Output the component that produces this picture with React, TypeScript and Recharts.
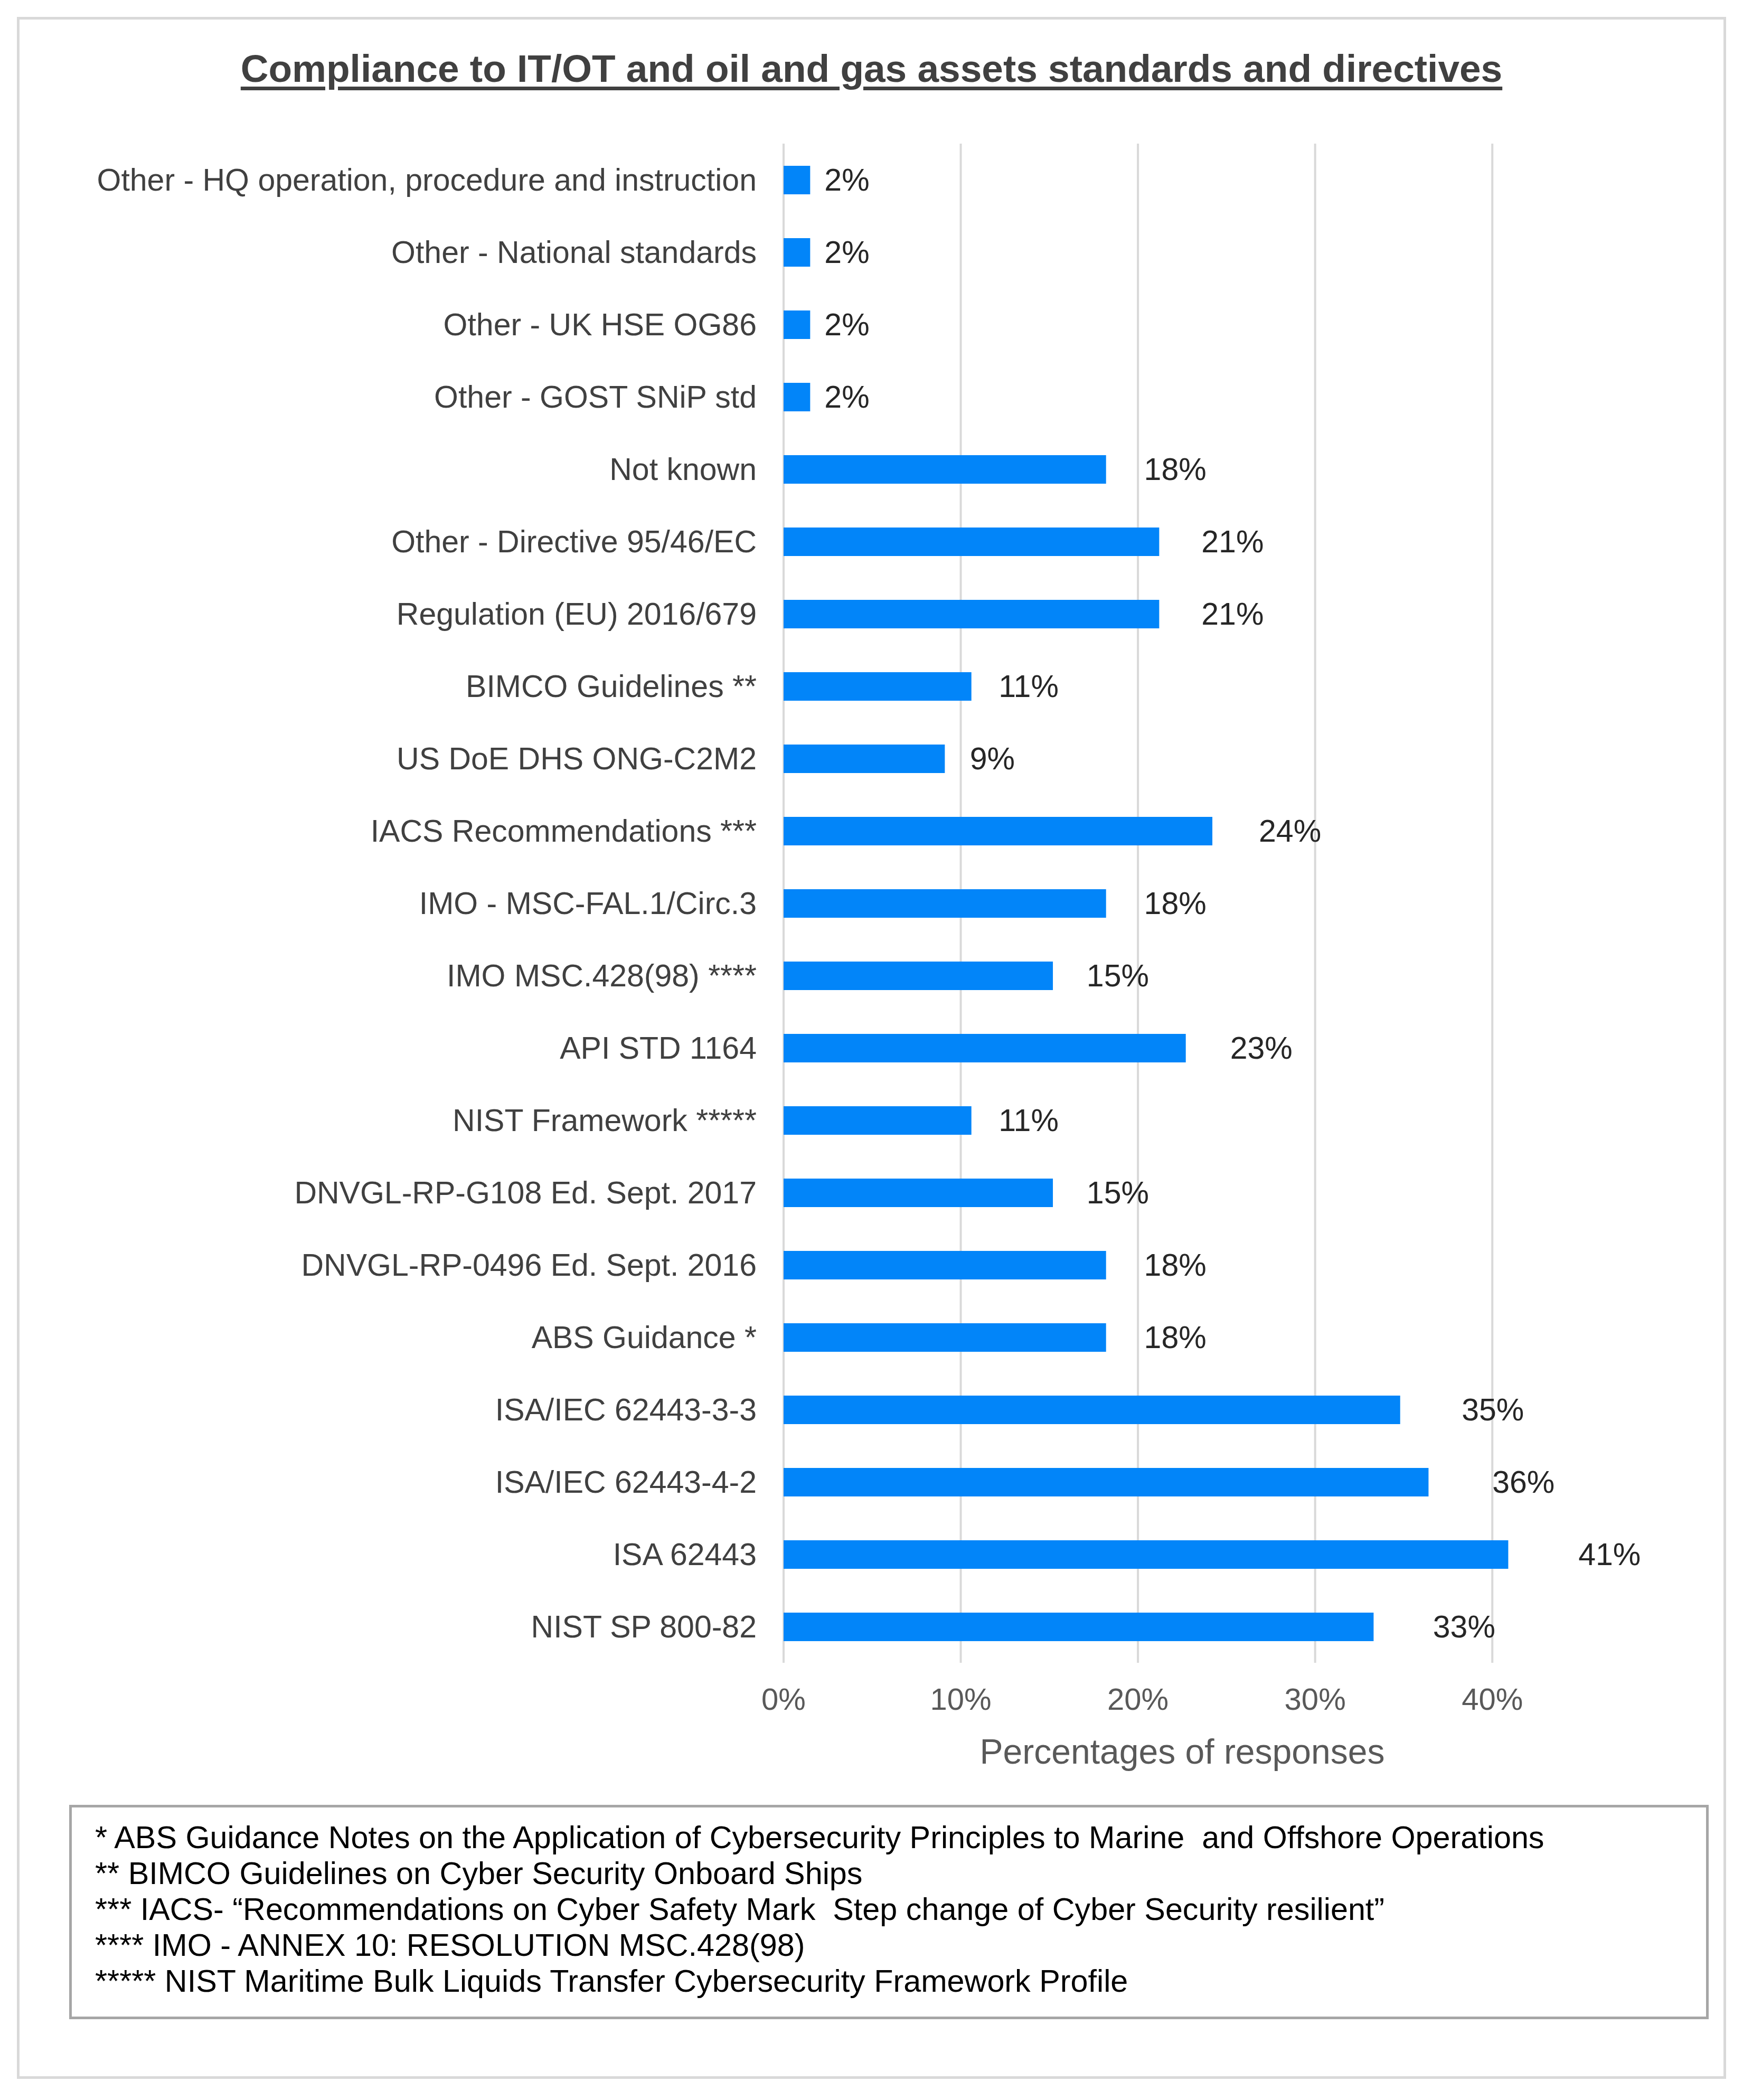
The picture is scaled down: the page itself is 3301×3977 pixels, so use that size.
import React from "react";
import {
  Bar,
  BarChart,
  CartesianGrid,
  Label,
  LabelList,
  XAxis,
  YAxis,
} from "recharts";

// Categories, top to bottom as they appear in the chart
const categories = [
  "Other - HQ operation, procedure and instruction",
  "Other - National standards",
  "Other - UK HSE OG86",
  "Other - GOST SNiP std",
  "Not known",
  "Other - Directive 95/46/EC",
  "Regulation (EU) 2016/679",
  "BIMCO Guidelines **",
  "US DoE DHS ONG-C2M2",
  "IACS Recommendations ***",
  "IMO - MSC-FAL.1/Circ.3",
  "IMO MSC.428(98) ****",
  "API STD 1164",
  "NIST Framework *****",
  "DNVGL-RP-G108 Ed. Sept. 2017",
  "DNVGL-RP-0496 Ed. Sept. 2016",
  "ABS Guidance *",
  "ISA/IEC 62443-3-3",
  "ISA/IEC 62443-4-2",
  "ISA 62443",
  "NIST SP 800-82",
];

// Share of responses in percent
const shares = [
  1.5, 1.5, 1.5, 1.5, 18.2, 21.2, 21.2, 10.6, 9.1, 24.2, 18.2, 15.2, 22.7,
  10.6, 15.2, 18.2, 18.2, 34.8, 36.4, 40.9, 33.3,
];

const xTicks = [0, 10, 20, 30, 40];
const xMax = 45;

const footnotes = [
  "* ABS Guidance Notes on the Application of Cybersecurity Principles to Marine  and Offshore Operations",
  "** BIMCO Guidelines on Cyber Security Onboard Ships",
  "*** IACS- \u201CRecommendations on Cyber Safety Mark  Step change of Cyber Security resilient\u201D",
  "**** IMO - ANNEX 10: RESOLUTION MSC.428(98)",
  "***** NIST Maritime Bulk Liquids Transfer Cybersecurity Framework Profile",
];

const rows = categories.map((name, i) => ({ name, share: shares[i] }));

const FONT = '"Liberation Sans", Arial, Helvetica, sans-serif';

const CategoryTick = ({ x, y, payload }: any) => (
  <text
    x={x}
    y={y}
    textAnchor="end"
    dominantBaseline="central"
    fill="#404040"
    fontSize={59}
    fontFamily={FONT}
  >
    {payload.value}
  </text>
);

const PercentTick = ({ x, y, payload }: any) => (
  <text
    x={x}
    y={y}
    textAnchor="middle"
    dominantBaseline="central"
    fill="#595959"
    fontSize={58}
    fontFamily={FONT}
  >
    {payload.value}%
  </text>
);

const ShareLabel = (props: any) => {
  const vb = props.viewBox || {};
  const x = props.x ?? vb.x;
  const y = props.y ?? vb.y;
  const width = props.width ?? vb.width;
  const height = props.height ?? vb.height;
  const value = Number(props.value);
  return (
    <text
      x={x + width * 1.08 + 23}
      y={y + height / 2}
      dominantBaseline="central"
      fill="#262626"
      fontSize={59}
      fontFamily={FONT}
    >
      {Math.round(value)}%
    </text>
  );
};

const AxisTitle = (props: any) => {
  const vb = props.viewBox || {};
  return (
    <text
      x={vb.x + vb.width / 2}
      y={vb.y + 168}
      textAnchor="middle"
      dominantBaseline="central"
      fill="#595959"
      fontSize={66}
      fontFamily={FONT}
    >
      Percentages of responses
    </text>
  );
};

// gridlines only at the labelled ticks (no line at the right edge)
const gridX = ({ xAxis, offset }: any) => {
  const scale = xAxis && xAxis.scale;
  if (typeof scale === "function") return xTicks.map((t) => scale(t));
  return xTicks.map((t) => offset.left + (t / xMax) * offset.width);
};

export default function App() {
  return (
    <div
      style={{
        position: "relative",
        width: 3301,
        height: 3977,
        background: "#ffffff",
        fontFamily: FONT,
        overflow: "hidden",
      }}
    >
      <style>{`body{margin:0}`}</style>

      <div
        style={{
          position: "absolute",
          left: 32,
          top: 32,
          width: 3237,
          height: 3905,
          boxSizing: "border-box",
          border: "5px solid #D9D9D9",
        }}
      />

      <div
        style={{
          position: "absolute",
          left: 0,
          top: 93,
          width: 3301,
          textAlign: "center",
          fontSize: 73,
          lineHeight: "73px",
          fontWeight: 700,
          color: "#404040",
          textDecoration: "underline",
          textDecorationThickness: 7,
          textUnderlineOffset: 9,
        }}
      >
        Compliance to IT/OT and oil and gas assets standards and directives
      </div>

      <div style={{ position: "absolute", left: 0, top: 0 }}>
        <BarChart
          width={3301}
          height={3400}
          data={rows}
          layout="vertical"
          margin={{ top: 272, right: 307, bottom: 101, left: 0 }}
          barSize={54}
        >
          <CartesianGrid
            horizontal={false}
            vertical={true}
            verticalCoordinatesGenerator={gridX}
            stroke="#D9D9D9"
            strokeWidth={4}
          />
          <XAxis
            type="number"
            domain={[0, xMax]}
            ticks={xTicks}
            axisLine={false}
            tickLine={false}
            tickSize={0}
            tickMargin={68}
            height={150}
            tick={<PercentTick />}
          >
            <Label content={<AxisTitle />} />
          </XAxis>
          <YAxis
            type="category"
            dataKey="name"
            width={1484}
            axisLine={false}
            tickLine={false}
            tickSize={0}
            tickMargin={51}
            interval={0}
            tick={<CategoryTick />}
          />
          <Bar dataKey="share" fill="#0285F9" isAnimationActive={false}>
            <LabelList dataKey="share" content={<ShareLabel />} />
          </Bar>
        </BarChart>
      </div>

      <div
        style={{
          position: "absolute",
          left: 131,
          top: 3418,
          width: 3105,
          height: 406,
          boxSizing: "border-box",
          border: "5px solid #A6A6A6",
        }}
      />
      {footnotes.map((line, i) => (
        <div
          key={i}
          style={{
            position: "absolute",
            left: 180,
            top: 3446 + i * 68,
            fontSize: 59.3,
            lineHeight: "68px",
            color: "#000000",
            whiteSpace: "pre",
          }}
        >
          {line}
        </div>
      ))}
    </div>
  );
}
